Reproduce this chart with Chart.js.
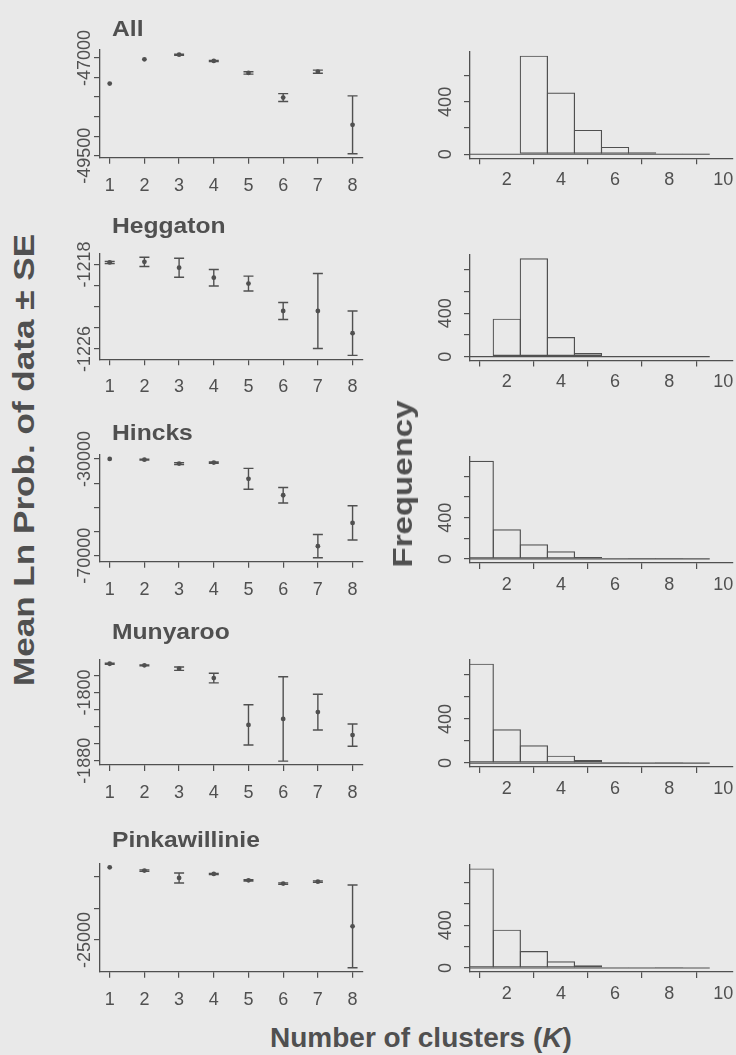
<!DOCTYPE html>
<html>
<head>
<meta charset="utf-8">
<script src="https://cdn.jsdelivr.net/npm/chart.js@4.4.1/dist/chart.umd.min.js"></script>
<style>
body { margin: 0; background: #e9e9e9; }
#fig { position: relative; width: 736px; height: 1055px; overflow: hidden; font-family: "Liberation Sans", Arial, sans-serif; color: #505050; }
#fig canvas { position: absolute; }
.lbl { position: absolute; white-space: nowrap; font-weight: bold; line-height: 1; }
</style>
</head>
<body>
<div id="fig"></div>
<script>
// data -------------------------------------------------------------
const K = [1, 2, 3, 4, 5, 6, 7, 8];
const panels = ['All', 'Heggaton', 'Hincks', 'Munyaroo', 'Pinkawillinie'];

// mean Ln P(D) and its SE for each K
const allMean = [-47655, -47035, -46916, -47077, -47383, -48013, -47350, -48709];
const allSE   = [0, 0, 15, 15, 30, 100, 40, 740];
const hegMean = [-1217.8, -1217.75, -1218.3, -1219.25, -1219.8, -1222.4, -1222.4, -1224.5];
const hegSE   = [0.1, 0.44, 0.9, 0.78, 0.7, 0.8, 3.55, 2.1];
const hinMean = [-30000, -30300, -31900, -31500, -38200, -45000, -66000, -56400];
const hinSE   = [0, 150, 400, 250, 4300, 3200, 4800, 7100];
const munMean = [-1766.2, -1768.1, -1772, -1783, -1838, -1831, -1823, -1850];
const munSE   = [0.6, 0.6, 2, 5.7, 23.7, 49.5, 21, 13];
const pinMean = [-13530, -14050, -15210, -14580, -15580, -16100, -15790, -22840];
const pinSE   = [0, 120, 790, 100, 110, 120, 120, 6530];

// y ticks and which of them carry a label
const allTicks = [-47000, -47500, -48000, -48500, -49000, -49500];
const allLab   = [-47000, -49500];
const hegTicks = [-1218, -1220, -1222, -1224, -1226];
const hegLab   = [-1218, -1226];
const hinTicks = [-30000, -40000, -50000, -60000, -70000];
const hinLab   = [-30000, -70000];
const munTicks = [-1780, -1800, -1820, -1840, -1860, -1880];
const munLab   = [-1800, -1880];
const pinTicks = [-15000, -20000, -25000];
const pinLab   = [-25000];

// histogram of K (bins centred on integers)
const bins    = [1, 2, 3, 4, 5, 6, 7, 8, 9];
const allFreq = [0, 0, 753, 471, 186, 56, 15, 5, 2];
const hegFreq = [0, 351, 908, 182, 34, 6, 3, 1, 0];
const hinFreq = [951, 287, 142, 74, 19, 6, 3, 1, 0];
const munFreq = [903, 306, 161, 67, 27, 9, 3, 1, 0];
const pinFreq = [930, 358, 159, 62, 25, 6, 3, 1, 0];
const freqTicks = [0, 200, 400, 600, 800];
const freqLab   = [0, 400];
const histXTicks = [2, 4, 6, 8, 10];

const means = [allMean, hegMean, hinMean, munMean, pinMean];
const ses   = [allSE, hegSE, hinSE, munSE, pinSE];
const yTicks = [allTicks, hegTicks, hinTicks, munTicks, pinTicks];
const yLabs  = [allLab, hegLab, hinLab, munLab, pinLab];
const freqs = [allFreq, hegFreq, hinFreq, munFreq, pinFreq];

// layout -----------------------------------------------------------
const ink = '#505050';
const family = '"Liberation Sans", Arial, sans-serif';
const leftTop  = [50.1, 253.3, 455, 659.3, 863.3];
const leftBot  = [157.7, 359.3, 561.7, 765, 971.7];
const rightTop = [51.7, 254.4, 456.8, 659.7, 864.4];
const rightBot = [158.2, 360.6, 562.9, 767, 972];
const titleBase = [36.7, 233.3, 441, 639.3, 847.7];

const fig = document.getElementById('fig');

// R style: axis range = data range stretched by 4% each side
function rRange(lo, hi) {
  const d = (hi - lo) * 0.04;
  return [lo - d, hi + d];
}

// rotated y tick labels, parallel to the axis like R does
const rotLabels = {
  id: 'rotLabels',
  afterDraw(chart, args, opts) {
    const y = chart.scales.y, ctx = chart.ctx;
    ctx.save();
    ctx.fillStyle = ink;
    ctx.font = '18px ' + family;
    ctx.textAlign = 'center';
    ctx.textBaseline = 'alphabetic';
    opts.values.forEach(v => {
      ctx.save();
      ctx.translate(chart.chartArea.left - opts.gap, y.getPixelForValue(v));
      ctx.rotate(-Math.PI / 2);
      ctx.fillText(String(v), 0, 0);
      ctx.restore();
    });
    ctx.restore();
  }
};

// +- SE bars with flat caps
const errBars = {
  id: 'errBars',
  beforeDatasetsDraw(chart) {
    const ds = chart.data.datasets[0];
    if (!ds.se) return;
    const xs = chart.scales.x, ys = chart.scales.y, ctx = chart.ctx;
    ctx.save();
    ctx.strokeStyle = ink;
    ctx.lineWidth = 1.4;
    ds.data.forEach((p, i) => {
      if (!ds.se[i]) return;
      const px = xs.getPixelForValue(p.x);
      const top = ys.getPixelForValue(p.y + ds.se[i]);
      const bot = ys.getPixelForValue(p.y - ds.se[i]);
      ctx.beginPath();
      ctx.moveTo(px, top); ctx.lineTo(px, bot);
      ctx.moveTo(px - 5, top); ctx.lineTo(px + 5, top);
      ctx.moveTo(px - 5, bot); ctx.lineTo(px + 5, bot);
      ctx.stroke();
    });
    ctx.restore();
  }
};

// canvas with room above the plot for the rotated tick labels
function makeCanvas(l, t, r, b, yW, xH) {
  const cl = Math.floor(l) - yW, ct = Math.floor(t) - 40;
  const cw = Math.ceil(r) + 6 - cl, ch = Math.ceil(b) + xH - ct;
  const c = document.createElement('canvas');
  c.width = cw; c.height = ch;
  c.style.left = cl + 'px'; c.style.top = ct + 'px';
  c.style.width = cw + 'px'; c.style.height = ch + 'px';
  fig.appendChild(c);
  return {
    canvas: c,
    padding: { left: 0, top: t - ct, right: cl + cw - r, bottom: 0 },
    yW: l - cl,
    xH: ct + ch - b
  };
}

function axisX(min, max, ticks, xH, pad) {
  return {
    type: 'linear', min: min, max: max, offset: false,
    afterBuildTicks: s => { s.ticks = ticks.map(v => ({ value: v })); },
    afterFit: s => { s.height = xH; },
    grid: { drawOnChartArea: false, drawTicks: true, tickLength: 6, color: ink, lineWidth: 1.2 },
    border: { display: true, color: ink, width: 1.3 },
    ticks: { font: { size: 18, family: family }, color: ink, padding: pad, maxRotation: 0, autoSkip: false }
  };
}

function axisY(min, max, ticks, yW) {
  return {
    type: 'linear', min: min, max: max,
    afterBuildTicks: s => { s.ticks = ticks.filter(v => v >= min && v <= max).map(v => ({ value: v })); },
    afterFit: s => { s.width = yW; },
    grid: { drawOnChartArea: false, drawTicks: true, tickLength: 6, color: ink, lineWidth: 1.2 },
    border: { display: true, color: ink, width: 1.3 },
    ticks: { display: false }
  };
}

panels.forEach((name, i) => {
  // left: mean Ln P(D) +- SE
  const m = means[i], se = ses[i];
  const [ylo, yhi] = rRange(Math.min(...m.map((v, j) => v - se[j])), Math.max(...m.map((v, j) => v + se[j])));
  const [xlo, xhi] = rRange(K[0], K[K.length - 1]);
  const L = makeCanvas(100, leftTop[i], 362.7, leftBot[i], 60, 42);
  new Chart(L.canvas, {
    type: 'scatter',
    data: {
      datasets: [{
        data: K.map((k, j) => ({ x: k, y: m[j] })),
        se: se,
        pointRadius: 2.4,
        pointBorderWidth: 0,
        pointBackgroundColor: ink,
        showLine: false
      }]
    },
    options: {
      responsive: false, animation: false, devicePixelRatio: 1,
      layout: { padding: L.padding },
      plugins: { legend: { display: false }, tooltip: { enabled: false }, rotLabels: { values: yLabs[i], gap: 10 } },
      scales: { x: axisX(xlo, xhi, K, L.xH, 11.2), y: axisY(ylo, yhi, yTicks[i], L.yW) }
    },
    plugins: [errBars, rotLabels]
  });

  // right: histogram of K
  const f = freqs[i];
  const top = Math.max(...f);
  const R = makeCanvas(470, rightTop[i], 733, rightBot[i], 70, 42);
  new Chart(R.canvas, {
    type: 'bar',
    data: {
      datasets: [{
        type: 'line',
        data: [{ x: bins[0] - 0.5, y: 0 }, { x: bins[bins.length - 1] + 0.5, y: 0 }],
        borderColor: ink, borderWidth: 1.2, pointRadius: 0, clip: 0
      }, {
        type: 'bar',
        data: bins.map((b, j) => ({ x: b, y: f[j] })),
        backgroundColor: 'rgba(0,0,0,0)',
        borderColor: ink, borderWidth: 1.2, borderSkipped: false,
        barPercentage: 1.045, categoryPercentage: 1, clip: 0
      }]
    },
    options: {
      responsive: false, animation: false, devicePixelRatio: 1,
      layout: { padding: R.padding },
      plugins: { legend: { display: false }, tooltip: { enabled: false }, rotLabels: { values: freqLab, gap: 19 } },
      scales: { x: axisX(0.64, 10.36, histXTicks, R.xH, 5), y: axisY(-0.04 * top, 1.04 * top, freqTicks, R.yW) }
    },
    plugins: [rotLabels]
  });

  // panel title
  const t = document.createElement('div');
  t.className = 'lbl';
  t.textContent = name;
  t.style.fontSize = '22px';
  t.style.left = '112px';
  t.style.top = (titleBase[i] - 0.8465 * 22) + 'px';
  t.style.transformOrigin = 'left center';
  t.style.transform = 'scaleX(1.12)';
  fig.appendChild(t);
});

// outer axis titles
function vText(html, size, cx, cy, stretch) {
  const d = document.createElement('div');
  d.className = 'lbl';
  d.innerHTML = html;
  d.style.fontSize = size + 'px';
  d.style.left = cx + 'px';
  d.style.top = cy + 'px';
  d.style.transform = 'translate(-50%,-50%) rotate(-90deg) scaleX(' + stretch + ')';
  fig.appendChild(d);
}
vText('Mean Ln Prob. of data ± SE', 30, 24, 460, 1.17);
vText('Frequency', 28, 403, 484, 1.18);

const xt = document.createElement('div');
xt.className = 'lbl';
xt.innerHTML = 'Number of clusters (<i>K</i>)';
xt.style.fontSize = '28px';
xt.style.left = '270px';
xt.style.top = (1048 - 0.8465 * 28) + 'px';
fig.appendChild(xt);
</script>
</body>
</html>
